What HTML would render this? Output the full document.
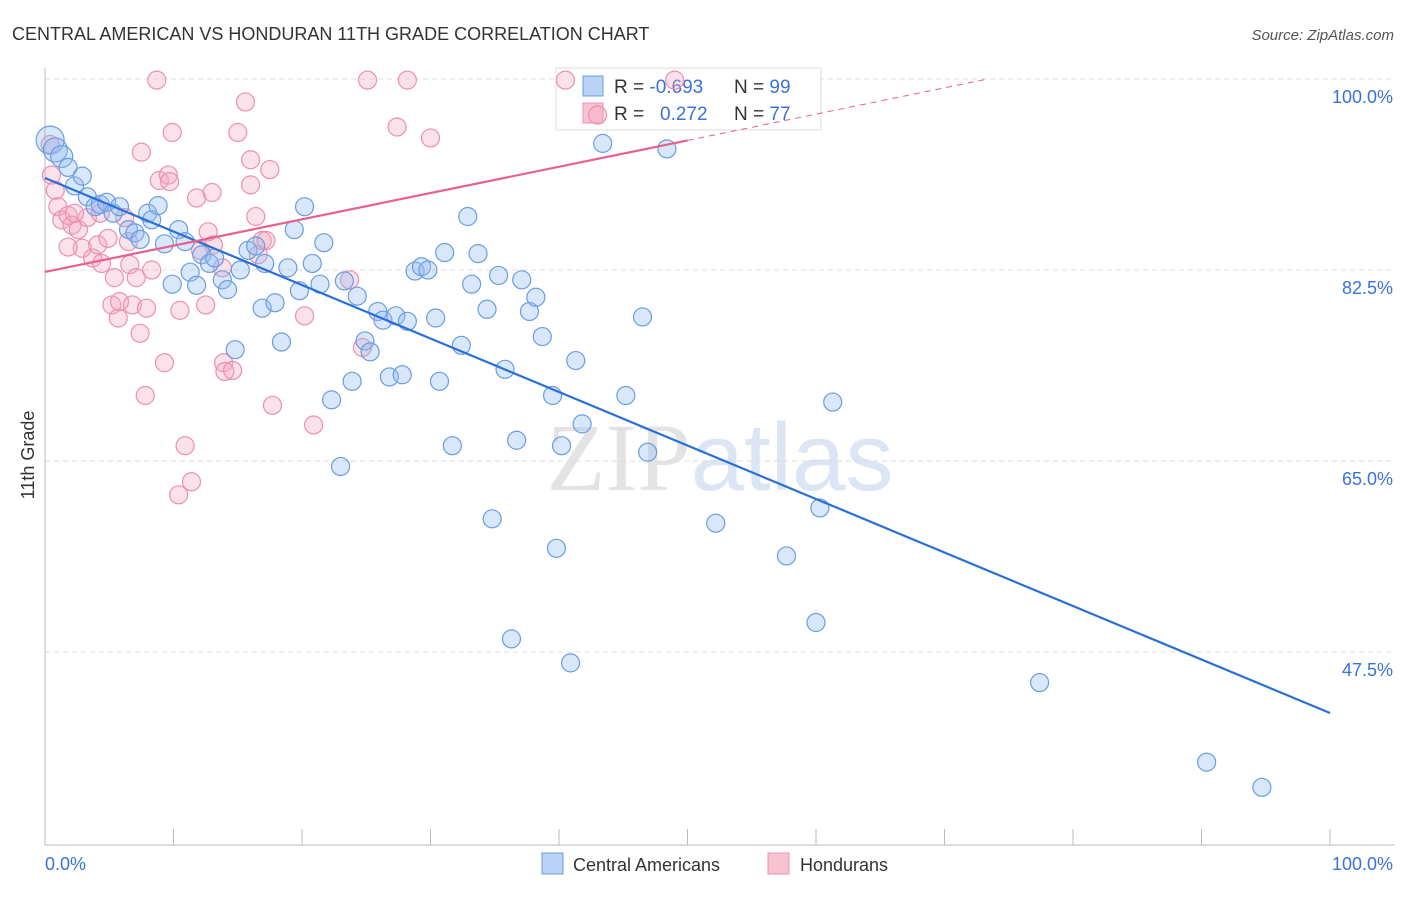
<!DOCTYPE html>
<html><head><meta charset="utf-8"><style>
body{margin:0;background:#fff;font-family:"Liberation Sans",sans-serif;}
svg text{font-family:"Liberation Sans",sans-serif;}
</style></head><body>
<svg id="chart" width="1406" height="892" xmlns="http://www.w3.org/2000/svg">
<text x="12" y="40" font-size="18" fill="#333">CENTRAL AMERICAN VS HONDURAN 11TH GRADE CORRELATION CHART</text>
<text x="1394" y="40" font-size="15" fill="#555" text-anchor="end" font-style="italic">Source: ZipAtlas.com</text>
<text x="720" y="490" font-size="96" text-anchor="middle" opacity="0.5"><tspan font-family="Liberation Serif" fill="#c8c8c8">ZIP</tspan><tspan fill="#b8cdea">atlas</tspan></text>
<g id="grid"></g><g id="axes"></g>
<g>
<rect x="556" y="68" width="265" height="62" fill="#fff" stroke="#ddd"/>
<rect x="583" y="76" width="20" height="20" fill="#b9d2f5" stroke="#6a9de0"/>
<rect x="583" y="103" width="20" height="20" fill="#f7c3d3" stroke="#ec8fb0"/>
<text x="614" y="93" font-size="19" fill="#333">R = <tspan fill="#3a72d8">-0.693</tspan><tspan x="734">N = </tspan><tspan fill="#3a72d8">99</tspan></text>
<text x="614" y="120" font-size="19" fill="#333">R = <tspan x="660" fill="#3a72d8">0.272</tspan><tspan x="734">N = </tspan><tspan fill="#3a72d8">77</tspan></text>
</g>
<g id="pts"></g><g id="lines"></g>
<text transform="translate(34,455) rotate(-90)" font-size="18" fill="#333" text-anchor="middle">11th Grade</text>
<text x="45" y="870" font-size="18" fill="#3a72d8">0.0%</text>
<text x="1393" y="870" font-size="18" fill="#3a72d8" text-anchor="end">100.0%</text>
<g>
<rect x="542" y="853" width="21" height="21" fill="#b9d2f5" stroke="#6a9de0"/>
<text x="573" y="871" font-size="18" fill="#333">Central Americans</text>
<rect x="768" y="853" width="21" height="21" fill="#f7c3d3" stroke="#ec8fb0"/>
<text x="800" y="871" font-size="18" fill="#333">Hondurans</text>
</g>
</svg>
<script>
const yTicks=[100,82.5,65,47.5];
const yTickLabels=["100.0%","82.5%","65.0%","47.5%"];
const xTicks=[0,10,20,30,40,50,60,70,80,90,100];
const blueX=[0.4,0.8,1.3,1.8,2.3,2.9,3.3,3.9,4.3,4.8,5.3,5.8,6.5,7.0,7.4,8.0,8.3,8.8,9.3,9.9,10.4,10.9,11.3,11.8,12.2,12.8,13.2,13.8,14.2,14.8,15.2,15.8,16.4,16.9,17.1,17.9,18.4,18.9,19.4,19.8,20.2,20.8,21.4,21.7,22.3,23.0,23.3,23.9,24.3,24.9,25.3,25.9,26.3,26.8,27.3,27.8,28.2,28.8,29.3,29.8,30.4,30.7,31.1,31.7,32.4,32.9,33.2,33.7,34.4,34.8,35.3,35.8,36.3,36.7,37.1,37.7,38.2,38.7,39.5,39.8,40.2,40.9,41.3,41.8,43.4,45.2,46.5,46.9,48.4,52.2,57.7,60.0,60.3,61.3,77.4,90.4,94.7];
const blueY=[94.4,93.5,92.9,91.9,90.2,91.1,89.2,88.3,88.5,88.7,87.7,88.3,86.2,85.9,85.3,87.7,87.1,88.4,84.9,81.2,86.2,85.1,82.3,81.1,83.9,83.1,83.6,81.6,80.7,75.2,82.5,84.3,84.7,79.0,83.1,79.5,75.9,82.7,86.2,80.6,88.3,83.1,81.2,85.0,70.6,64.5,81.5,72.3,80.1,76.0,75.0,78.7,77.9,72.7,78.3,72.9,77.8,82.4,82.8,82.5,78.1,72.3,84.1,66.4,75.6,87.4,81.2,84.0,78.9,59.7,82.0,73.4,48.7,66.9,81.6,78.7,80.0,76.4,71.0,57.0,66.4,46.5,74.2,68.4,94.1,71.0,78.2,65.8,93.6,59.3,56.3,50.2,60.7,70.4,44.7,37.4,35.1];
const pinkX=[0.4,0.5,0.8,1.0,1.3,1.8,2.1,2.6,2.9,3.3,3.7,4.1,4.4,4.9,5.2,5.4,5.7,5.8,6.2,6.5,6.6,6.8,7.1,7.4,7.8,7.9,7.5,8.3,8.7,8.9,9.3,9.6,9.7,9.9,10.5,10.9,10.4,11.4,11.8,12.1,12.5,12.7,13.0,13.1,13.8,13.9,14.0,14.6,15.0,15.6,16.0,16.0,16.4,16.6,16.9,17.2,17.5,17.7,20.2,20.9,23.7,24.7,25.1,27.4,28.2,30.0,40.5,43.0,49.0,1.8,2.3,4.3];
const pinkY=[94.0,91.2,89.8,88.3,87.1,87.5,86.6,86.2,84.5,87.3,83.6,84.8,83.1,85.4,79.3,81.8,78.1,79.6,87.3,85.1,83.0,79.3,81.8,76.7,71.0,79.0,93.3,82.5,99.9,90.7,74.0,91.2,90.6,95.1,78.8,66.4,61.9,63.1,89.1,84.3,79.3,86.0,89.6,84.8,82.7,74.0,73.2,73.3,95.1,97.9,92.6,90.3,87.4,83.9,85.2,85.2,91.7,70.1,78.3,68.3,81.6,75.4,99.9,95.6,99.9,94.6,99.9,96.7,99.9,84.6,87.7,87.7];
const blueSize=[14,12,11];
const blueTrend=[90.93,41.91];
const pinkTrend=[82.32,94.37];
const NS="http://www.w3.org/2000/svg";
const X=v=>45+v*12.85, Y=v=>79+(100-v)*10.914;
function mk(t,a,p){const e=document.createElementNS(NS,t);for(const k in a)e.setAttribute(k,a[k]);p.appendChild(e);return e;}
const grid=document.getElementById('grid'),axes=document.getElementById('axes'),pts=document.getElementById('pts'),lines=document.getElementById('lines');
yTicks.forEach((v,i)=>{
 const l=mk('line',{x1:45,x2:1395,y1:Y(v),y2:Y(v),stroke:'#ddd','stroke-dasharray':'5,4'},grid);
 
 
 const t=mk('text',{x:1393,y:Y(v)+24,'font-size':18,fill:'#3a72d8','text-anchor':'end'},grid);
 t.textContent=yTickLabels[i];
 
 
});
const xa=mk('line',{x1:45,x2:1395,y1:845,y2:845,stroke:'#bbb'},axes);


const ya=mk('line',{x1:45,x2:45,y1:68,y2:845,stroke:'#bbb'},axes);


xTicks.forEach(v=>{const t=mk('line',{x1:X(v),x2:X(v),y1:829,y2:845,stroke:'#bbb'},axes);
 
 });
pinkX.forEach((x,i)=>{const c=mk('circle',{cx:X(x),cy:Y(pinkY[i]),r:9,fill:'rgba(244,170,195,0.35)',stroke:'#ec8fb0','stroke-width':1.2},pts);
 
 });
blueX.forEach((x,i)=>{const c=mk('circle',{cx:X(x),cy:Y(blueY[i]),r:blueSize[i]||9,fill:'rgba(147,186,240,0.35)',stroke:'#6a9de0','stroke-width':1.2},pts);
 
 });
const bl=mk('line',{x1:X(0),y1:Y(blueTrend[0]),x2:X(100),y2:Y(blueTrend[1]),stroke:'#2a6fd6','stroke-width':2.2},lines);


const ps=(pinkTrend[1]-pinkTrend[0])/50;
const pl=mk('line',{x1:X(0),y1:Y(pinkTrend[0]),x2:X(50),y2:Y(pinkTrend[1]),stroke:'#e8608d','stroke-width':2.2},lines);


const xe=(100-pinkTrend[0])/ps;
const pd=mk('line',{x1:X(50),y1:Y(pinkTrend[1]),x2:X(xe),y2:Y(100),stroke:'#e8608d','stroke-width':1,'stroke-dasharray':'6,5'},lines);


</script>
</body></html>
